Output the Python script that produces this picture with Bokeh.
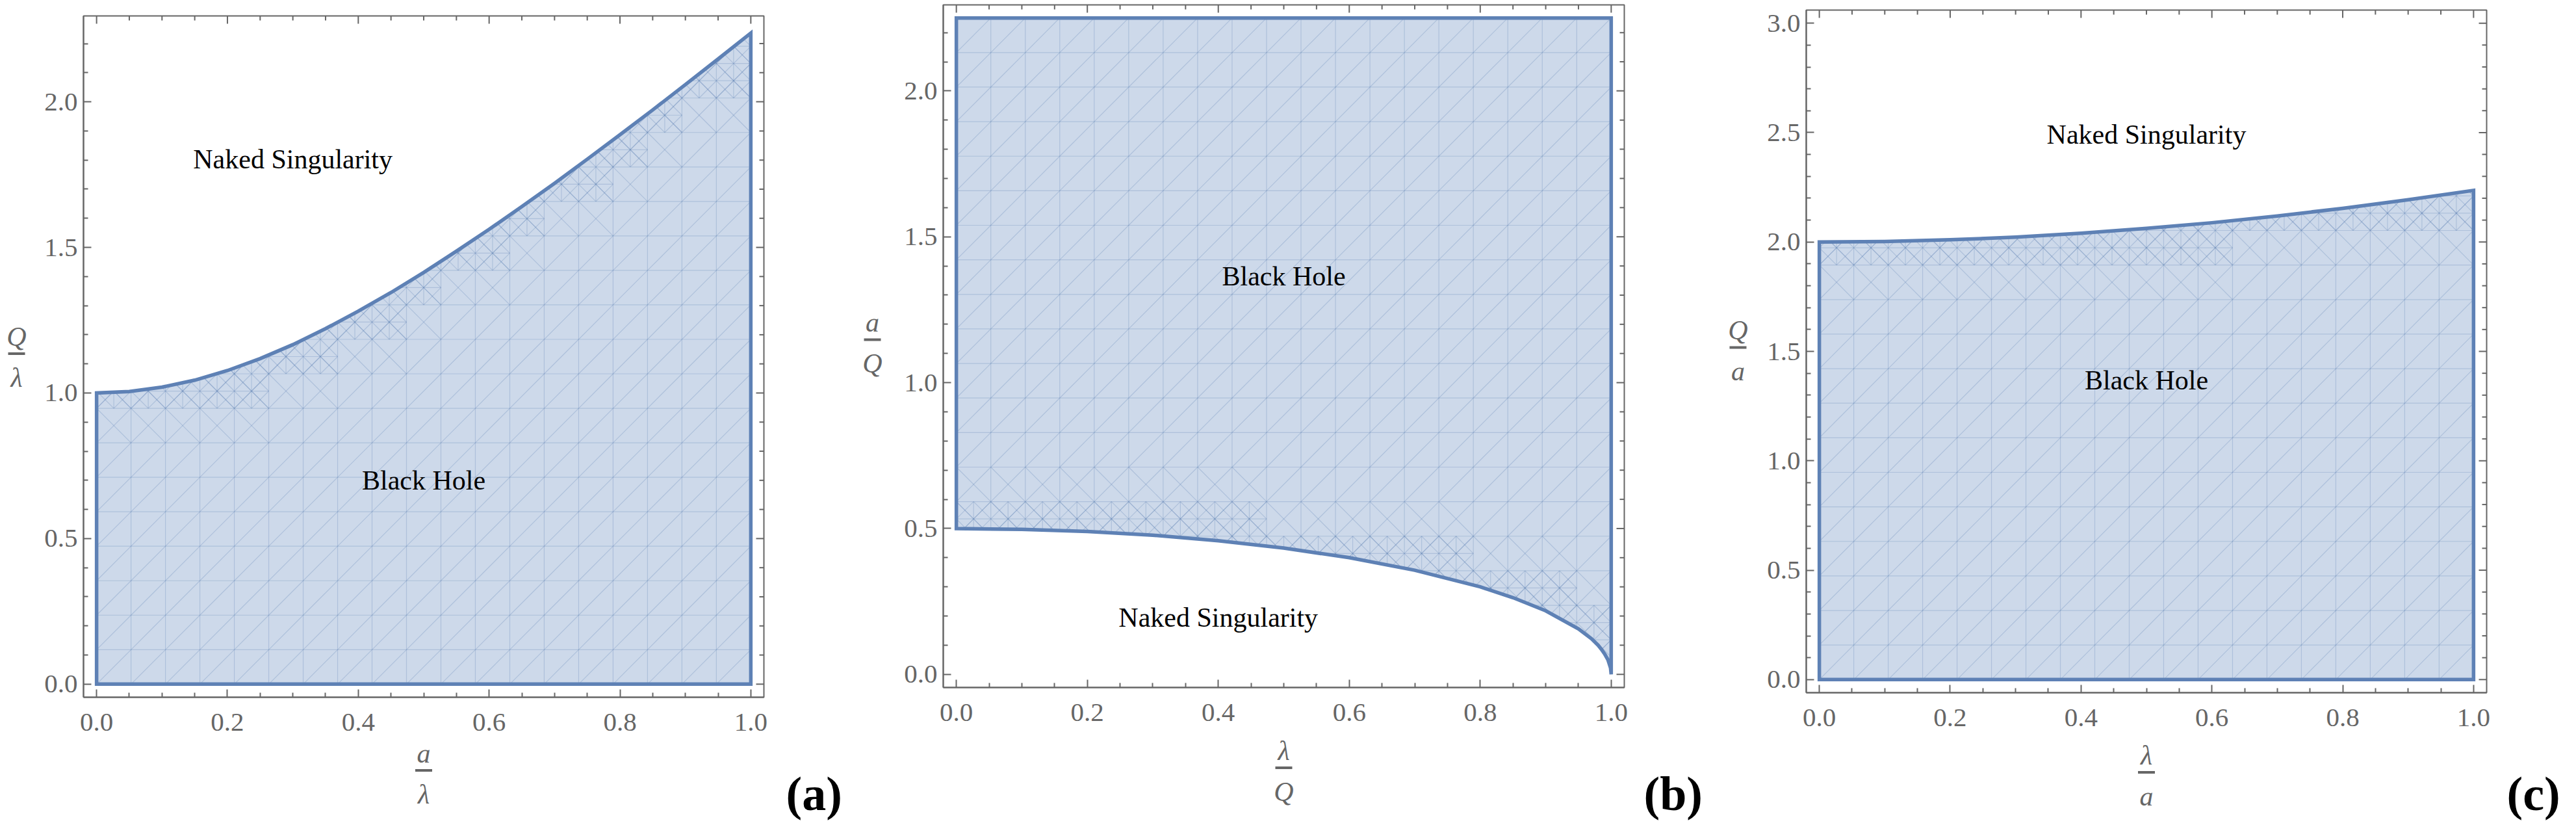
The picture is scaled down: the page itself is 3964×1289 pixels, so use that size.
import numpy as np
from bokeh.plotting import figure
from bokeh.layouts import row
from bokeh.models import FixedTicker, NumeralTickFormatter, Range1d
from bokeh.core.properties import value
from bokeh.embed import file_html
from bokeh.resources import INLINE

# ---------------- data ----------------
# (a) boundary: Q/lambda versus a/lambda (black hole below the curve)
a_over_lambda = [0.0, 0.05, 0.1, 0.15, 0.2, 0.25, 0.3, 0.35, 0.4, 0.45, 0.5,
                 0.55, 0.6, 0.65, 0.7, 0.75, 0.8, 0.85, 0.9, 0.95, 1.0]
q_over_lambda = [1.000, 1.005, 1.020, 1.044, 1.077, 1.118, 1.166, 1.221, 1.281, 1.345, 1.414,
                 1.487, 1.562, 1.640, 1.720, 1.803, 1.887, 1.972, 2.059, 2.147, 2.236]
# (b) boundary: a/Q versus lambda/Q (black hole above the curve)
lambda_over_q = [0.0, 0.1, 0.2, 0.3, 0.4, 0.5, 0.6, 0.7, 0.8, 0.85, 0.9, 0.95, 0.97,
                 0.98, 0.985, 0.99, 0.995, 0.999, 1.0]
a_over_q = [0.500, 0.497, 0.490, 0.477, 0.458, 0.433, 0.400, 0.357, 0.300, 0.263, 0.218,
            0.156, 0.122, 0.100, 0.086, 0.070, 0.050, 0.022, 0.0]
# (c) boundary: Q/a versus lambda/a (black hole below the curve)
lambda_over_a = [0.0, 0.1, 0.2, 0.3, 0.4, 0.5, 0.6, 0.7, 0.8, 0.9, 1.0]
q_over_a = [2.000, 2.002, 2.010, 2.022, 2.040, 2.062, 2.088, 2.119, 2.154, 2.193, 2.236]

# plotted data extents (y) of each panel
y_extent = {"a": 2.25, "b": 2.25, "c": 3.0}

# ticks
x_ticks = [0.0, 0.2, 0.4, 0.6, 0.8, 1.0]
x_minor = [0.05, 0.1, 0.15, 0.25, 0.3, 0.35, 0.45, 0.5, 0.55, 0.65, 0.7, 0.75, 0.85, 0.9, 0.95]
y_ticks_ab = [0.0, 0.5, 1.0, 1.5, 2.0]
y_minor_ab = [0.1, 0.2, 0.3, 0.4, 0.6, 0.7, 0.8, 0.9, 1.1, 1.2, 1.3, 1.4, 1.6, 1.7, 1.8, 1.9, 2.1, 2.2]
y_ticks_c = [0.0, 0.5, 1.0, 1.5, 2.0, 2.5, 3.0]
y_minor_c = [0.1, 0.2, 0.3, 0.4, 0.6, 0.7, 0.8, 0.9, 1.1, 1.2, 1.3, 1.4, 1.6, 1.7, 1.8, 1.9,
             2.1, 2.2, 2.3, 2.4, 2.6, 2.7, 2.8, 2.9]

# region names (text, x, y of baseline)
texts_a = ["Naked Singularity", "Black Hole"]
text_x_a = [0.3, 0.5]
text_y_a = [1.77, 0.667]
texts_b = ["Black Hole", "Naked Singularity"]
text_x_b = [0.5, 0.4]
text_y_b = [1.334, 0.164]
texts_c = ["Naked Singularity", "Black Hole"]
text_x_c = [0.5, 0.5]
text_y_c = [2.45, 1.326]

# axis label fractions (numerator, denominator)
xlab = {"a": ("a", "λ"), "b": ("λ", "Q"), "c": ("λ", "a")}
ylab = {"a": ("Q", "λ"), "b": ("a", "Q"), "c": ("Q", "a")}
tags = {"a": "(a)", "b": "(b)", "c": "(c)"}

# ---------------- styling / layout ----------------
LINE = "#5e81b5"
FILL = "#cdd9ea"
GRAY = "#666666"
SERIF = "Liberation Serif"
H = 1275
FS_TEXT = 42
FS_TAG = 74
MID = 0.3375  # em distance from baseline to the text's vertical centre

layout_spec = {
    # fig width, border left, frame w, border top, frame h, page x offset
    "a": dict(W=1312, bl=128, fw=1047, bt=24, fh=1048, ox=8),
    "b": dict(W=1320, bl=139, fw=1048, bt=7, fh=1050, ox=1320),
    "c": dict(W=1316, bl=147, fw=1047, bt=15, fh=1050, ox=2640),
}
label_pos = {
    "a": dict(xbar_y=1192.5, ybar=(33, 551.5), tag_x=1217),
    "b": dict(xbar_y=1188.5, ybar=(1350, 530), tag_x=2537),
    "c": dict(xbar_y=1195.5, ybar=(2682, 542), tag_x=3865),
}


def mesh(ymax, cx, cy, n=19):
    dx, dy = 1.0 / n, ymax / n
    xs, ys = [], []
    for i in range(n + 1):
        xs.append([i * dx, i * dx]); ys.append([0, ymax])
    for j in range(n + 1):
        xs.append([0, 1]); ys.append([j * dy, j * dy])
    for i in range(n):
        for j in range(n):
            x0, x1 = i * dx, (i + 1) * dx
            y0, y1 = j * dy, (j + 1) * dy
            xs.append([x0, x1]); ys.append([y0, y1])
            samp = np.interp(np.linspace(x0, x1, 8), cx, cy)
            lo, hi = samp.min(), samp.max()
            if y1 >= lo - 1.2 * dy and y0 <= hi + 1.2 * dy:
                xs.append([x0, x1]); ys.append([y1, y0])
            if y1 >= lo - 0.2 * dy and y0 <= hi + 0.2 * dy:
                xm, ym = (x0 + x1) / 2, (y0 + y1) / 2
                xs += [[xm, xm], [x0, x1]]; ys += [[y0, y1], [ym, ym]]
                for (a, b) in [(x0, y0), (xm, y0), (x0, ym), (xm, ym)]:
                    xs.append([a, a + dx / 2]); ys.append([b, b + dy / 2])
                    xs.append([a, a + dx / 2]); ys.append([b + dy / 2, b])
    return xs, ys


def style_axis(ax, ticks, minors):
    ax.ticker = FixedTicker(ticks=ticks, minor_ticks=minors)
    ax.formatter = NumeralTickFormatter(format="0.0")
    ax.axis_line_color = GRAY
    ax.axis_line_width = 2
    ax.major_tick_line_color = GRAY
    ax.major_tick_line_width = 2
    ax.minor_tick_line_color = GRAY
    ax.minor_tick_line_width = 2
    ax.major_tick_in = 12
    ax.major_tick_out = 0
    ax.minor_tick_in = 7
    ax.minor_tick_out = 0
    ax.major_label_text_font = SERIF
    ax.major_label_text_font_size = "41px"
    ax.major_label_text_color = GRAY


def make_panel(key, cx, cy, side, yticks, yminor, texts, tx, ty):
    L = layout_spec[key]
    W, bl, fw, bt, fh, ox = L["W"], L["bl"], L["fw"], L["bt"], L["fh"], L["ox"]
    ymax = y_extent[key]
    pad_y = 0.02 * ymax
    x0r, x1r = -0.02, 1.02
    y0r, y1r = -pad_y, ymax + pad_y
    ppx = fw / (x1r - x0r)
    ppy = fh / (y1r - y0r)
    fl = ox + bl
    ft = 8 + bt
    xr = Range1d(x0r - bl / ppx, x1r + (W - bl - fw) / ppx)
    yr = Range1d(y0r - (H - bt - fh) / ppy, y1r + bt / ppy)

    p = figure(width=W, height=H, frame_width=W, frame_height=H, x_range=xr, y_range=yr,
               output_backend="svg", toolbar_location=None, min_border=0,
               min_border_left=0, min_border_right=0, min_border_top=0, min_border_bottom=0)
    p.grid.visible = False
    p.outline_line_color = None

    xa = p.xaxis[0]
    style_axis(xa, x_ticks, x_minor)
    xa.fixed_location = y0r
    xa.bounds = (x0r, x1r)
    xa.major_label_standoff = 25
    ya = p.yaxis[0]
    style_axis(ya, yticks, yminor)
    ya.fixed_location = x0r
    ya.bounds = (y0r, y1r)
    ya.major_label_standoff = 9

    def dxp(px):
        return x0r + (px - fl) / ppx

    def dyp(py):
        return y1r - (py - ft) / ppy

    cx = list(cx); cy = list(cy)
    if side == "below":
        rx = [0.0] + cx + [1.0]
        ry = [0.0] + cy + [0.0]
        wx = [-0.006] + cx + [1.006, 1.006, -0.006]
        wy = [cy[0]] + cy + [cy[-1], ymax + 0.02, ymax + 0.02]
    else:
        rx = cx + [1.0, 0.0]
        ry = cy + [ymax, ymax]
        wx = [-0.006] + cx + [1.006, 1.006, -0.006]
        wy = [cy[0]] + cy + [cy[-1], -0.02, -0.02]

    # filled region, its triangulation mesh, outside cleared, boundary line
    p.patch(rx, ry, fill_color=FILL, line_color=None)
    mx, my = mesh(ymax, cx, cy)
    p.multi_line(mx, my, line_color=LINE, line_alpha=0.28, line_width=1.2)
    p.patch(wx, wy, fill_color="white", line_color=None)
    p.line(rx + [rx[0], rx[1]], ry + [ry[0], ry[1]], line_color=LINE, line_width=5.5,
           line_join="miter")

    # frame with inward ticks on top and right
    p.line([x0r, x1r, x1r, x0r, x0r], [y0r, y0r, y1r, y1r, y0r], line_color=GRAY, line_width=2)
    tx0, ty0, tx1, ty1 = [], [], [], []
    for t in x_ticks + x_minor:
        ln = 12 if t in x_ticks else 7
        tx0.append(t); ty0.append(y1r); tx1.append(t); ty1.append(y1r - ln / ppy)
    for t in yticks + yminor:
        ln = 12 if t in yticks else 7
        tx0.append(x1r); ty0.append(t); tx1.append(x1r - ln / ppx); ty1.append(t)
    p.segment(x0=tx0, y0=ty0, x1=tx1, y1=ty1, line_color=GRAY, line_width=2)

    # region names
    shift = MID * FS_TEXT / ppy
    p.text(x=tx, y=[t + shift for t in ty], text=texts, text_font=value(SERIF),
           text_font_size=value(f"{FS_TEXT}px"), text_color="black",
           text_align="center", text_baseline="middle")

    # axis-label fractions
    def fraction(cxp, bar_y, num, den):
        p.quad(left=[dxp(cxp - 13)], right=[dxp(cxp + 13)], top=[dyp(bar_y - 2)],
               bottom=[dyp(bar_y + 2)], fill_color=GRAY, line_color=None)
        off = MID * FS_TEXT
        p.text(x=[dxp(cxp), dxp(cxp)], y=[dyp(bar_y - 12 - off), dyp(bar_y + 51 - off)],
               text=[num, den], text_font=value(SERIF), text_font_style="italic",
               text_font_size=value(f"{FS_TEXT}px"), text_color=GRAY,
               text_align="center", text_baseline="middle")

    LP = label_pos[key]
    fraction(fl + fw / 2, LP["xbar_y"], *xlab[key])
    fraction(LP["ybar"][0], LP["ybar"][1], *ylab[key])
    p.text(x=[dxp(LP["tag_x"])], y=[dyp(1253 - MID * FS_TAG)], text=[tags[key]],
           text_font=value(SERIF), text_font_style="bold",
           text_font_size=value(f"{FS_TAG}px"), text_color="black",
           text_align="left", text_baseline="middle")
    return p


pa = make_panel("a", a_over_lambda, q_over_lambda, "below", y_ticks_ab, y_minor_ab,
                texts_a, text_x_a, text_y_a)
pb = make_panel("b", lambda_over_q, a_over_q, "above", y_ticks_ab, y_minor_ab,
                texts_b, text_x_b, text_y_b)
pc = make_panel("c", lambda_over_a, q_over_a, "below", y_ticks_c, y_minor_c,
                texts_c, text_x_c, text_y_c)

page = row(pa, pb, pc)
open("out.html", "w").write(file_html(page, INLINE))
